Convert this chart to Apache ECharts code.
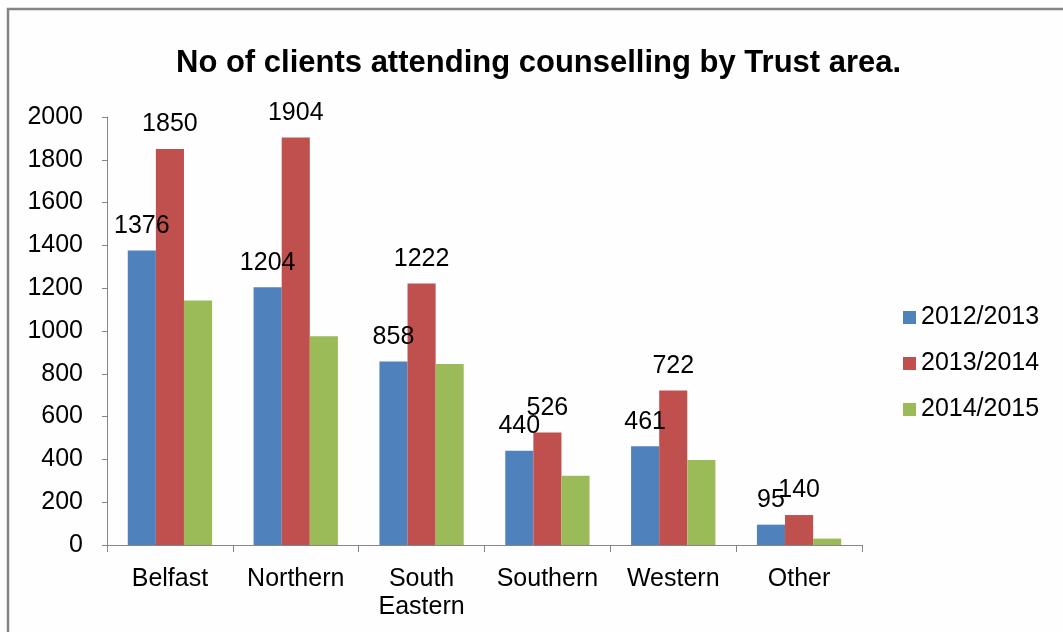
<!DOCTYPE html>
<html>
<head>
<meta charset="utf-8">
<script src="https://cdn.jsdelivr.net/npm/echarts@6/dist/echarts.min.js"></script>
<style>
html,body{margin:0;padding:0;background:#fefefe;}
#main{width:1063px;height:632px;}
</style>
</head>
<body>
<div id="main"></div>
<script>
var categories = ['Belfast', 'Northern', 'South\nEastern', 'Southern', 'Western', 'Other'];
var seriesNames = ['2012/2013', '2013/2014', '2014/2015'];
var values2012 = [1376, 1204, 858, 440, 461, 95];
var values2013 = [1850, 1904, 1222, 526, 722, 140];
var values2014 = [1143, 975, 846, 324, 397, 30];
var yTicks = [0, 200, 400, 600, 800, 1000, 1200, 1400, 1600, 1800, 2000];

var colors = ['#4F81BD', '#C0504D', '#9BBB59'];
var font = 'Liberation Sans, Arial, sans-serif';

var chart = echarts.init(document.getElementById('main'), null, {renderer: 'canvas'});

function barSeries(name, data, color, showLabel) {
  return {
    name: name,
    type: 'bar',
    data: data,
    barGap: '0%',
    barCategoryGap: '33%',
    itemStyle: {color: color},
    label: {
      show: showLabel,
      position: 'top',
      distance: 12,
      color: '#000',
      fontFamily: font,
      fontSize: 25
    },
    emphasis: {disabled: true}
  };
}

chart.setOption({
  backgroundColor: '#fefefe',
  animation: false,
  color: colors,
  graphic: [{
    type: 'rect',
    shape: {x: 8, y: 9, width: 1200, height: 800},
    style: {fill: 'none', stroke: '#858585', lineWidth: 2.5},
    silent: true
  }],
  title: {
    text: 'No of clients attending counselling by Trust area.',
    left: 176,
    top: 48,
    padding: 0,
    textStyle: {fontFamily: font, fontSize: 31, fontWeight: 'bold', color: '#000'}
  },
  legend: {
    orient: 'vertical',
    left: 903,
    top: 305,
    padding: 0,
    itemWidth: 13,
    itemHeight: 13,
    itemGap: 21,
    icon: 'rect',
    data: seriesNames,
    textStyle: {fontFamily: font, fontSize: 25, color: '#000'}
  },
  grid: {left: 107, right: 201, top: 117, bottom: 87, containLabel: false},
  xAxis: {
    type: 'category',
    data: categories,
    axisLine: {lineStyle: {color: '#868686', width: 1}},
    axisTick: {show: true, length: 7, alignWithLabel: false, lineStyle: {color: '#868686'}},
    axisLabel: {
      interval: 0,
      margin: 20,
      color: '#000',
      fontFamily: font,
      fontSize: 25,
      lineHeight: 28
    },
    splitLine: {show: false}
  },
  yAxis: {
    type: 'value',
    min: yTicks[0],
    max: yTicks[yTicks.length - 1],
    interval: 200,
    axisLine: {show: true, lineStyle: {color: '#868686', width: 1}},
    axisTick: {show: true, length: 5, lineStyle: {color: '#868686'}},
    axisLabel: {
      margin: 24,
      color: '#000',
      fontFamily: font,
      fontSize: 25,
      formatter: function (v) { return String(v); }
    },
    splitLine: {show: false}
  },
  series: [
    barSeries(seriesNames[0], values2012, colors[0], true),
    barSeries(seriesNames[1], values2013, colors[1], true),
    barSeries(seriesNames[2], values2014, colors[2], false)
  ]
});
</script>
</body>
</html>
